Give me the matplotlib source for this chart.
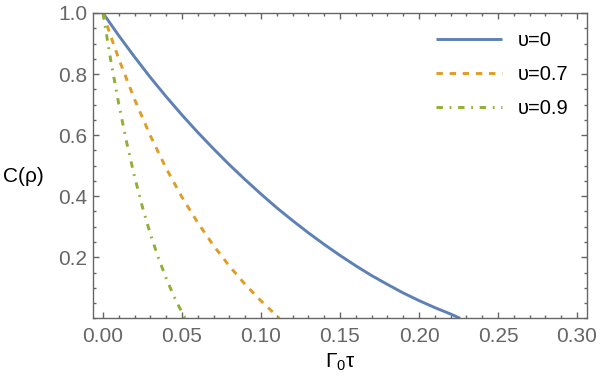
import matplotlib
matplotlib.use("Agg")
import matplotlib.pyplot as plt
from matplotlib.ticker import MultipleLocator, FixedLocator

plt.rcParams['font.family'] = ['Liberation Sans', 'DejaVu Sans']
plt.rcParams['mathtext.default'] = 'regular'

# Data
x_u0 = [0.000, 0.010, 0.020, 0.030, 0.040, 0.050, 0.060, 0.070, 0.080, 0.090, 0.100,
        0.110, 0.120, 0.130, 0.140, 0.150, 0.160, 0.170, 0.180, 0.190, 0.200, 0.210, 0.220, 0.226]
y_u0 = [1.000, 0.926, 0.856, 0.789, 0.726, 0.666, 0.609, 0.555, 0.503, 0.454, 0.407,
        0.362, 0.320, 0.280, 0.242, 0.206, 0.172, 0.140, 0.111, 0.083, 0.058, 0.035, 0.014, 0.000]

x_u07 = [0.000, 0.005, 0.010, 0.020, 0.030, 0.040, 0.050, 0.060, 0.070, 0.080, 0.090, 0.100, 0.110, 0.1116]
y_u07 = [1.000, 0.923, 0.850, 0.717, 0.598, 0.491, 0.397, 0.313, 0.238, 0.171, 0.111, 0.057, 0.008, 0.000]

x_u09 = [0.000, 0.005, 0.010, 0.015, 0.020, 0.025, 0.030, 0.035, 0.040, 0.045, 0.050, 0.052]
y_u09 = [1.000, 0.843, 0.702, 0.576, 0.464, 0.364, 0.276, 0.199, 0.131, 0.071, 0.019, 0.000]

labels = ['υ=0', 'υ=0.7', 'υ=0.9']
colors = ['#5E81B5', '#E19C24', '#8FB032']
x_ticks = [0.00, 0.05, 0.10, 0.15, 0.20, 0.25, 0.30]
y_ticks = [0.2, 0.4, 0.6, 0.8, 1.0]

fig = plt.figure(figsize=(6.0, 3.86), dpi=100)
ax = fig.add_axes([93/600, 1-318.3/386, 494/600, 305.3/386])

ax.plot(x_u0, y_u0, color=colors[0], lw=2.1, solid_capstyle='butt', solid_joinstyle='round', label=labels[0])
ax.plot(x_u07, y_u07, color=colors[1], lw=2.1, dashes=(2.2, 2.3), label=labels[1])
ax.plot(x_u09, y_u09, color=colors[2], lw=2.1, dashes=(2.2, 2.3, 0.6, 2.3), label=labels[2])

ax.set_xlim(-0.0063, 0.3063)
ax.set_ylim(0, 1.0)

gray = '#666666'
ax.xaxis.set_major_locator(FixedLocator(x_ticks))
ax.xaxis.set_minor_locator(MultipleLocator(0.01))
ax.yaxis.set_major_locator(FixedLocator(y_ticks))
ax.yaxis.set_minor_locator(MultipleLocator(0.05))
ax.set_xticklabels([f'{v:.2f}' for v in x_ticks])
ax.set_yticklabels([f'{v:.1f}' for v in y_ticks])

ax.tick_params(which='both', direction='in', top=True, right=True, color=gray, width=1.0)
ax.tick_params(which='major', length=4.5, labelsize=15, labelcolor=gray)
ax.tick_params(which='minor', length=2.5)
ax.tick_params(axis='x', which='major', pad=6)
ax.tick_params(axis='y', which='major', pad=4)
for s in ax.spines.values():
    s.set_color(gray)
    s.set_linewidth(1.0)

ax.set_ylabel('C(ρ)', rotation=0, fontsize=15, color='black', ha='center', va='center')
ax.yaxis.set_label_coords(-0.14, 0.463)
ax.set_xlabel('Γ$_0$τ', fontsize=15, color='black', ha='center', va='center')
ax.xaxis.set_label_coords(0.5, -0.143)

ax.legend(loc='upper right', bbox_to_anchor=(1.0, 1.0), frameon=False, fontsize=14.5,
          handlelength=3.3, handletextpad=0.8, labelspacing=0.75, borderaxespad=0.5)

fig.savefig('out.png', dpi=100)
